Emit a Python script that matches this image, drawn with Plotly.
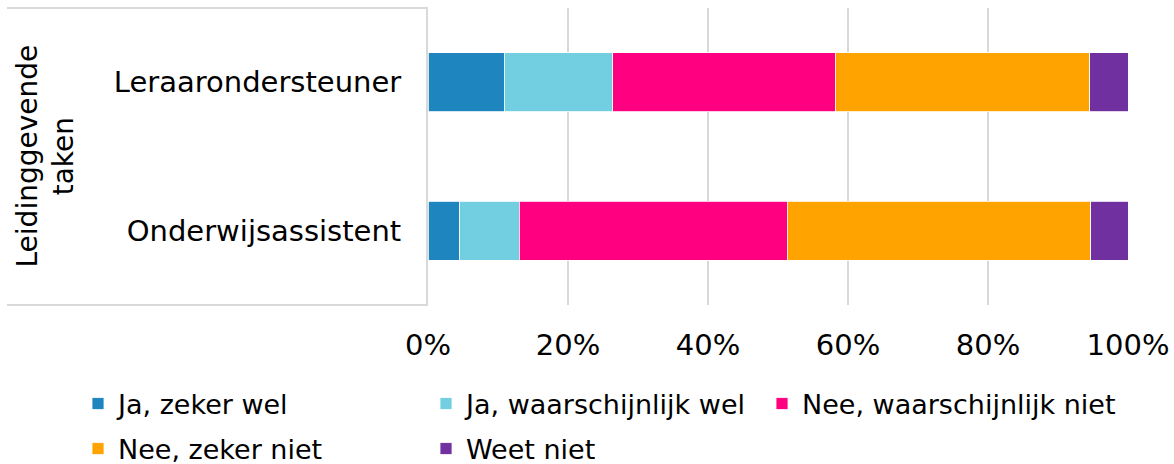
import plotly.graph_objects as go

categories = ["Onderwijsassistent", "Leraarondersteuner"]
series_names = ["Ja, zeker wel", "Ja, waarschijnlijk wel", "Nee, waarschijnlijk niet",
                "Nee, zeker niet", "Weet niet"]
ja_zeker_wel = [4.5, 10.9]
ja_waarschijnlijk_wel = [8.5, 15.5]
nee_waarschijnlijk_niet = [38.3, 31.8]
nee_zeker_niet = [43.4, 36.3]
weet_niet = [5.3, 5.5]
colors = ["#1f85be", "#72cfe2", "#ff0080", "#ffa300", "#7030a0"]
tick_vals = [0, 20, 40, 60, 80, 100]
tick_text = ["0%", "20%", "40%", "60%", "80%", "100%"]
group_label = "Leidinggevende<br>taken"

W, H = 1174, 464
L, R, T, B = 428, 46, 8, 159
PW = W - L - R
PH = H - T - B

# legend item placement (symbol left edge x, row centre y) in pixels
leg_pos = [(92, 404), (440, 404), (776, 404), (92, 449), (440, 449)]

fig = go.Figure()
all_vals = [ja_zeker_wel, ja_waarschijnlijk_wel, nee_waarschijnlijk_niet, nee_zeker_niet, weet_niet]
font = "DejaVu Sans, Verdana, sans-serif"
legends = {}
for i, (name, vals, col) in enumerate(zip(series_names, all_vals, colors)):
    lname = "legend" if i == 0 else f"legend{i + 1}"
    fig.add_trace(go.Bar(y=categories, x=vals, name=name, orientation="h",
                         marker=dict(color=col, line=dict(color="white", width=0.8)),
                         legend=lname, hoverinfo="x+name"))
    px, py = leg_pos[i]
    legends[lname] = dict(orientation="h", x=(px - 14 - L) / PW, xanchor="left",
                          y=-(py - (T + PH)) / PH, yanchor="middle",
                          font=dict(size=27, family=font), itemwidth=30,
                          bgcolor="rgba(0,0,0,0)")

fig.update_layout(
    width=W, height=H, barmode="stack", bargap=0.6,
    margin=dict(l=L, r=R, t=T, b=B, autoexpand=False),
    plot_bgcolor="white", paper_bgcolor="white",
    font=dict(family=font, size=28, color="black"),
    xaxis=dict(range=[0, 100], tickvals=tick_vals, ticktext=tick_text,
               showgrid=True, gridcolor="#d9d9d9", gridwidth=2, zeroline=False,
               showline=False, ticks="", ticklabelstandoff=20,
               tickfont=dict(size=29, family=font)),
    yaxis=dict(categoryorder="array", categoryarray=categories,
               showline=True, linecolor="#d9d9d9", linewidth=2, ticks="",
               ticklabelstandoff=19, tickfont=dict(size=29, family=font)),
    showlegend=True,
    **legends,
)

fig.add_shape(type="line", xref="paper", yref="paper", x0=(7 - L) / PW, x1=0, y0=1, y1=1,
              line=dict(color="#d9d9d9", width=2))
fig.add_shape(type="line", xref="paper", yref="paper", x0=(7 - L) / PW, x1=0, y0=0, y1=0,
              line=dict(color="#d9d9d9", width=2))
fig.add_annotation(xref="paper", yref="paper", x=(45 - L) / PW, y=0.5, text=group_label,
                   textangle=-90, showarrow=False, font=dict(size=28, family=font),
                   xanchor="center", yanchor="middle")

fig.write_html("out.html", post_script="document.body.style.margin='0';",
               config={"displayModeBar": False})
